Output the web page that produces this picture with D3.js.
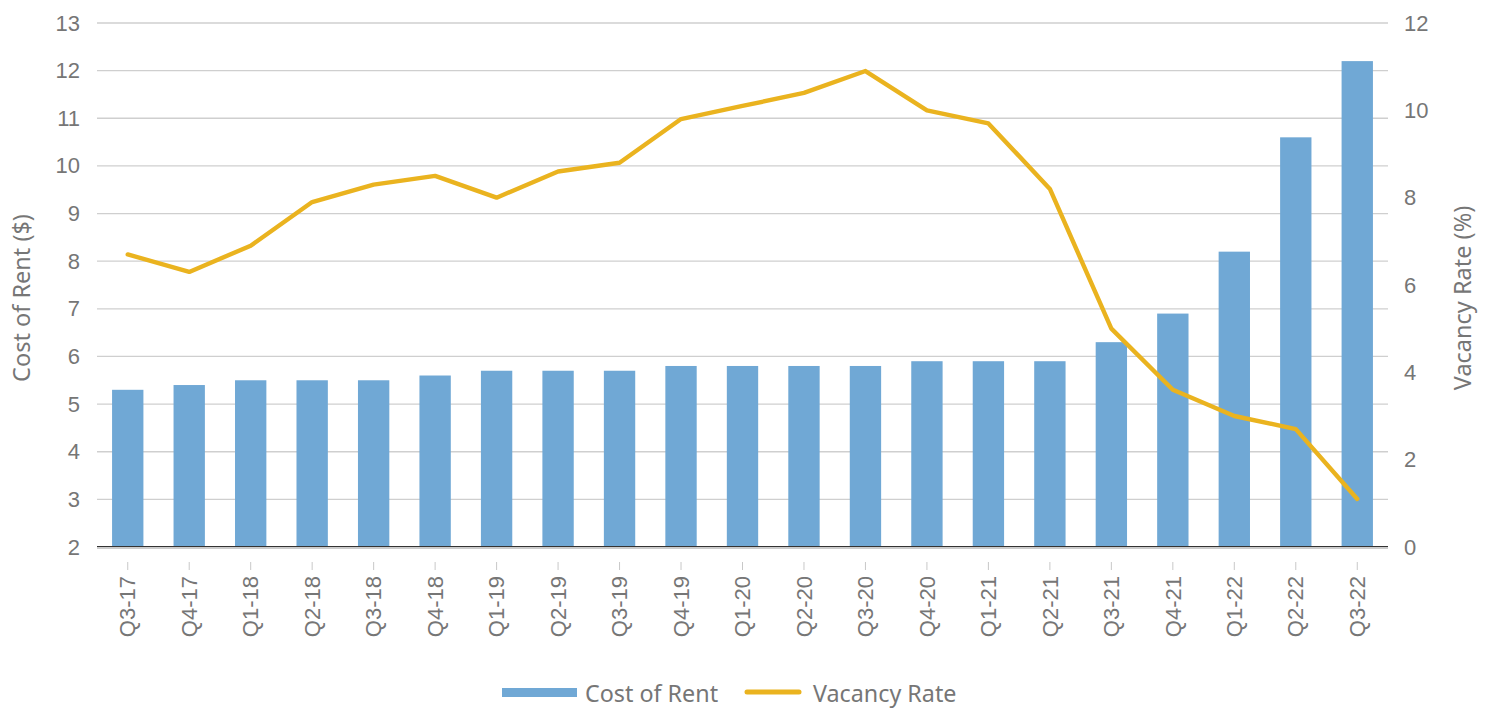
<!DOCTYPE html>
<html>
<head>
<meta charset="utf-8">
<script src="https://cdn.jsdelivr.net/npm/d3@7/dist/d3.min.js"></script>
<style>
  body { margin: 0; background: #fff; }
  svg { display: block; font-family: "Noto Sans", "Open Sans", sans-serif; }
</style>
</head>
<body>
<svg id="chart" width="1487" height="709"></svg>
<script>
const categories = ["Q3-17","Q4-17","Q1-18","Q2-18","Q3-18","Q4-18","Q1-19","Q2-19","Q3-19","Q4-19","Q1-20","Q2-20","Q3-20","Q4-20","Q1-21","Q2-21","Q3-21","Q4-21","Q1-22","Q2-22","Q3-22"];
const costOfRent = [5.3,5.4,5.5,5.5,5.5,5.6,5.7,5.7,5.7,5.8,5.8,5.8,5.8,5.9,5.9,5.9,6.3,6.9,8.2,10.6,12.2];
const vacancyRate = [6.7,6.3,6.9,7.9,8.3,8.5,8.0,8.6,8.8,9.8,10.1,10.4,10.9,10.0,9.7,8.2,5.0,3.6,3.0,2.7,1.1];
const leftTicks = [2,3,4,5,6,7,8,9,10,11,12,13];
const rightTicks = [0,2,4,6,8,10,12];

const svg = d3.select("#chart");
const m = {left: 97, right: 1388, top: 23, bottom: 547};
const textColor = "#767676";
const barColor = "#70A8D5";
const lineColor = "#EAB31F";

const x = d3.scaleBand().domain(categories).range([m.left, m.right]).paddingInner(0.49).paddingOuter(0.245);
const yL = d3.scaleLinear().domain([2, 13]).range([m.bottom, m.top]);
const yR = d3.scaleLinear().domain([0, 12]).range([m.bottom, m.top]);

// gridlines
svg.append("g").selectAll("line").data(leftTicks.slice(1)).join("line")
  .attr("x1", m.left).attr("x2", m.right)
  .attr("y1", d => yL(d)).attr("y2", d => yL(d))
  .attr("stroke", "#cfcfcf").attr("stroke-width", 1.3);

// bars
svg.append("g").selectAll("rect").data(categories).join("rect")
  .attr("x", d => x(d))
  .attr("width", x.bandwidth())
  .attr("y", (d, i) => yL(costOfRent[i]))
  .attr("height", (d, i) => yL(2) - yL(costOfRent[i]))
  .attr("fill", barColor);

// baseline
svg.append("line").attr("x1", m.left).attr("x2", m.right).attr("y1", m.bottom - 0.5).attr("y2", m.bottom - 0.5)
  .attr("stroke", "#333").attr("stroke-width", 1);
svg.append("line").attr("x1", m.left).attr("x2", m.right).attr("y1", m.bottom + 1).attr("y2", m.bottom + 1)
  .attr("stroke", "#999").attr("stroke-width", 1.2);

// line
const line = d3.line().x((d, i) => x(categories[i]) + x.bandwidth() / 2).y(d => yR(d));
svg.append("path").datum(vacancyRate).attr("d", line)
  .attr("fill", "none").attr("stroke", lineColor).attr("stroke-width", 4.4)
  .attr("stroke-linejoin", "round").attr("stroke-linecap", "round");

// left axis
const leftAxis = d3.axisLeft(yL).tickValues(leftTicks).tickSize(0).tickPadding(17);
const gL = svg.append("g").attr("transform", `translate(${m.left},0)`).call(leftAxis);
gL.select(".domain").remove();
gL.selectAll("text").attr("fill", textColor).attr("font-size", 22).style("font-family", "inherit");

// right axis
const rightAxis = d3.axisRight(yR).tickValues(rightTicks).tickSize(0).tickPadding(16);
const gR = svg.append("g").attr("transform", `translate(${m.right},0)`).call(rightAxis);
gR.select(".domain").remove();
gR.selectAll("text").attr("fill", textColor).attr("font-size", 22).style("font-family", "inherit");

// bottom axis
const bottomAxis = d3.axisBottom(x).tickSize(8).tickPadding(6);
const gB = svg.append("g").attr("transform", `translate(0,${m.bottom + 15})`).call(bottomAxis);
gB.select(".domain").remove();
gB.selectAll(".tick line").attr("stroke", "#c8c8c8");
gB.selectAll("text").attr("fill", textColor).attr("font-size", 22).style("font-family", "inherit")
  .attr("transform", "rotate(-90)").attr("text-anchor", "end").attr("dy", "0.35em").attr("x", -14).attr("y", 0);

// axis titles
svg.append("text").attr("transform", `translate(30,298) rotate(-90)`).attr("text-anchor", "middle")
  .attr("fill", textColor).attr("font-size", 23.5).text("Cost of Rent ($)");
svg.append("text").attr("transform", `translate(1471,298) rotate(-90)`).attr("text-anchor", "middle")
  .attr("fill", textColor).attr("font-size", 23.5).text("Vacancy Rate (%)");

// legend
const lg = svg.append("g");
lg.append("rect").attr("x", 502).attr("y", 688).attr("width", 75).attr("height", 9).attr("fill", barColor);
lg.append("text").attr("x", 585).attr("y", 702).attr("fill", textColor).attr("font-size", 23.3).text("Cost of Rent");
lg.append("line").attr("x1", 747).attr("x2", 799).attr("y1", 692).attr("y2", 692)
  .attr("stroke", lineColor).attr("stroke-width", 5).attr("stroke-linecap", "round");
lg.append("text").attr("x", 813).attr("y", 702).attr("fill", textColor).attr("font-size", 23.3).text("Vacancy Rate");
</script>
</body>
</html>
